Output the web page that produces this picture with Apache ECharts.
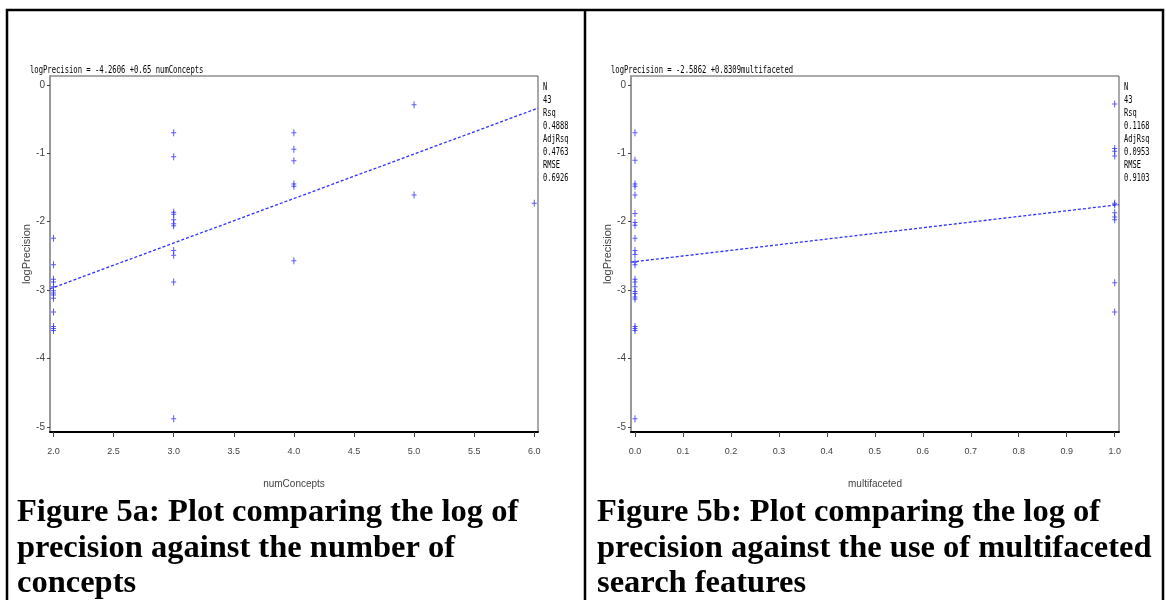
<!DOCTYPE html>
<html>
<head>
<meta charset="utf-8">
<script src="https://cdn.jsdelivr.net/npm/echarts@6/dist/echarts.min.js"></script>
<style>
html,body{margin:0;padding:0;background:#fff;}
#c{width:1166px;height:600px;}
</style>
</head>
<body>
<div id="c"></div>
<script>
// ---- Data ----
// Figure 5a: numConcepts vs logPrecision
const conceptsX2 = [-2.24, -2.63, -2.84, -2.88, -2.95, -3.01, -3.04, -3.07, -3.12, -3.32, -3.53, -3.56, -3.59];
const conceptsX3 = [-0.70, -1.05, -1.86, -1.89, -1.97, -2.03, -2.06, -2.42, -2.49, -2.88, -4.88];
const conceptsX4 = [-0.70, -0.94, -1.11, -1.45, -1.48, -2.57];
const conceptsX5 = [-0.29, -1.61];
const conceptsX6 = [-1.73];
const fitA = [[1.971, -2.98], [6.031, -0.34]];

// Figure 5b: multifaceted vs logPrecision
const multiX0 = [-0.70, -1.10, -1.45, -1.48, -1.61, -1.88, -2.01, -2.05, -2.24, -2.42, -2.48, -2.59, -2.63,
                 -2.84, -2.88, -2.95, -3.02, -3.05, -3.10, -3.13, -3.53, -3.56, -3.59, -4.88];
const multiX1 = [-0.28, -0.93, -0.97, -1.04, -1.73, -1.75, -1.87, -1.93, -1.97, -2.89, -3.32];
const fitB = [[-0.0083, -2.59], [1.009, -1.75]];

// Tick values
const yTicks = [0, -1, -2, -3, -4, -5];
const xTicksA = [2.0, 2.5, 3.0, 3.5, 4.0, 4.5, 5.0, 5.5, 6.0];
const xTicksB = [0.0, 0.1, 0.2, 0.3, 0.4, 0.5, 0.6, 0.7, 0.8, 0.9, 1.0];

// Texts
const eqA = 'logPrecision = -4.2606 +0.65 numConcepts';
const eqB = 'logPrecision = -2.5862 +0.8309multifaceted';
const statsA = ['N', '43', 'Rsq', '0.4888', 'AdjRsq', '0.4763', 'RMSE', '0.6926'];
const statsB = ['N', '43', 'Rsq', '0.1168', 'AdjRsq', '0.0953', 'RMSE', '0.9103'];
const captionA = ['Figure 5a: Plot comparing the log of', 'precision against the number of', 'concepts'];
const captionB = ['Figure 5b: Plot comparing the log of', 'precision against the use of multifaceted', 'search features'];

// ---- Build ----
function pts(x, arr) { return arr.map(v => [x, v]); }
const dataA = [].concat(pts(2, conceptsX2), pts(3, conceptsX3), pts(4, conceptsX4), pts(5, conceptsX5), pts(6, conceptsX6));
const dataB = [].concat(pts(0, multiX0), pts(1, multiX1));

const BLUE = '#2f2fff';
const plus = 'path://M2,0h1v7h-1z M0,3h5v1h-5z';
const narrow = '"Liberation Sans Narrow", "Liberation Sans", Arial, sans-serif';

function xAxisCfg(gi, min, max, ticks, name) {
  return {
    type: 'value', gridIndex: gi, min: min, max: max,
    name: name, nameLocation: 'middle', nameGap: 47,
    nameTextStyle: {color: '#444', fontSize: 10, fontFamily: narrow},
    axisLine: {show: true, onZero: false, lineStyle: {color: '#000', width: 2}},
    axisTick: {show: true, length: 5, customValues: ticks, lineStyle: {color: '#444', width: 1}},
    axisLabel: {show: true, customValues: ticks, margin: 15, color: '#444', fontSize: 9, fontFamily: narrow,
                formatter: v => v.toFixed(1)},
    splitLine: {show: false}
  };
}
function yAxisCfg(gi) {
  return {
    type: 'value', gridIndex: gi, min: -5.073, max: 0.13,
    name: 'logPrecision', nameLocation: 'middle', nameGap: 15, nameRotate: 90,
    nameTextStyle: {color: '#444', fontSize: 11, fontFamily: '"Liberation Sans", Arial, sans-serif'},
    axisLine: {show: true, onZero: false, lineStyle: {color: '#999', width: 2}},
    axisTick: {show: true, length: 3, customValues: yTicks, lineStyle: {color: '#444', width: 1}},
    axisLabel: {show: true, customValues: yTicks, margin: 5, color: '#444', fontSize: 10, fontFamily: narrow},
    splitLine: {show: false}
  };
}

const monoFont = '"DejaVu Sans Mono", "Liberation Mono", monospace';
function smallText(x, y, txt, lh, fs, sx) {
  return {type: 'text', x: x, y: y, scaleX: sx || 0.72, silent: true,
          style: {text: txt, fill: '#000', fontFamily: monoFont, fontSize: fs || 10, lineHeight: lh || 12,
                  verticalAlign: 'top', align: 'left'}};
}
function caption(x, lines) {
  return {type: 'text', x: x, y: 495, silent: true,
          style: {text: lines.join('\n'), fill: '#000', fontFamily: '"Liberation Serif", "Times New Roman", serif',
                  fontWeight: 'bold', fontSize: 32.5, lineHeight: 35.5, verticalAlign: 'top', align: 'left'}};
}

const chart = echarts.init(document.getElementById('c'), null, {renderer: 'canvas'});
chart.setOption({
  animation: false,
  backgroundColor: '#fff',
  grid: [
    {left: 50, top: 76, width: 488, height: 356, show: true, borderColor: '#555', borderWidth: 1, backgroundColor: 'transparent'},
    {left: 631, top: 76, width: 488, height: 356, show: true, borderColor: '#555', borderWidth: 1, backgroundColor: 'transparent'}
  ],
  xAxis: [
    xAxisCfg(0, 1.971, 6.031, xTicksA, 'numConcepts'),
    xAxisCfg(1, -0.0083, 1.009, xTicksB, 'multifaceted')
  ],
  yAxis: [yAxisCfg(0), yAxisCfg(1)],
  series: [
    {type: 'line', xAxisIndex: 0, yAxisIndex: 0, data: fitA, symbol: 'none',
     lineStyle: {color: BLUE, width: 1.3, type: [3, 2]}, z: 2},
    {type: 'scatter', xAxisIndex: 0, yAxisIndex: 0, data: dataA, symbol: plus, symbolSize: [5, 7],
     itemStyle: {color: BLUE}, z: 3},
    {type: 'line', xAxisIndex: 1, yAxisIndex: 1, data: fitB, symbol: 'none',
     lineStyle: {color: BLUE, width: 1.3, type: [3, 2]}, z: 2},
    {type: 'scatter', xAxisIndex: 1, yAxisIndex: 1, data: dataB, symbol: plus, symbolSize: [5, 7],
     itemStyle: {color: BLUE}, z: 3}
  ],
  graphic: [
    {type: 'rect', silent: true, shape: {x: 7, y: 10, width: 1156, height: 600},
     style: {fill: 'none', stroke: '#000', lineWidth: 2.5}},
    {type: 'line', silent: true, shape: {x1: 585, y1: 10, x2: 585, y2: 600},
     style: {stroke: '#000', lineWidth: 2.5}},
    smallText(30, 64, eqA),
    smallText(611, 64, eqB),
    smallText(543, 81, statsA.join('\n'), 13, 11, 0.64),
    smallText(1124, 81, statsB.join('\n'), 13, 11, 0.64),
    caption(17, captionA),
    caption(597, captionB)
  ]
});
</script>
</body>
</html>
